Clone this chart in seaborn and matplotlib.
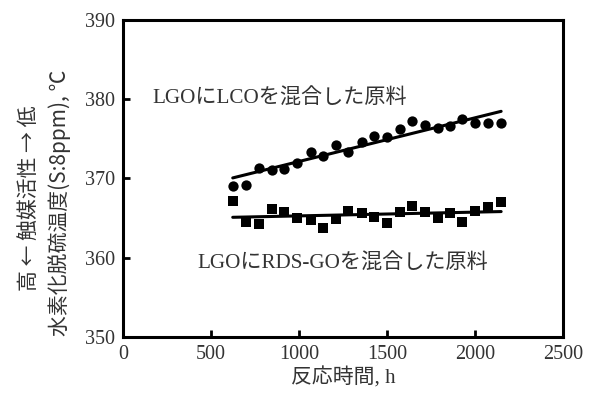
import numpy as np
import pandas as pd
import matplotlib.pyplot as plt
import seaborn as sns

# reaction time (h)
hours = [623, 699, 774, 845, 917, 987, 1066, 1138, 1210, 1280, 1356,
         1426, 1498, 1574, 1640, 1716, 1791, 1858, 1924, 2000, 2076, 2148]
# LGO + LCO feed
temp_lco = [369.0, 369.2, 371.3, 371.1, 371.2, 372.0, 373.3, 372.8, 374.2, 373.3, 374.6,
            375.4, 375.2, 376.2, 377.2, 376.8, 376.3, 376.6, 377.5, 377.0, 377.0, 377.0]
# LGO + RDS-GO feed
temp_rds = [367.2, 364.5, 364.3, 366.1, 365.8, 365.0, 364.8, 363.8, 364.9, 365.9, 365.7,
            365.2, 364.4, 365.8, 366.5, 365.8, 365.0, 365.7, 364.5, 365.9, 366.4, 367.0]

df = pd.DataFrame({'hours': hours, 'lco': temp_lco, 'rds': temp_rds})

sns.set_style('ticks')
plt.rcParams['font.family'] = ['Liberation Serif', 'Noto Sans CJK JP', 'DejaVu Sans']
plt.rcParams['axes.linewidth'] = 2.2

fig = plt.figure(figsize=(5.89, 3.97), dpi=100)
ax = fig.add_axes([0.209, 0.151, 0.747, 0.799])

sns.regplot(data=df, x='hours', y='lco', scatter=False, ci=None, ax=ax,
            color='black', line_kws={'linewidth': 2.2})
sns.regplot(data=df, x='hours', y='rds', scatter=False, ci=None, ax=ax,
            color='black', line_kws={'linewidth': 2.2})
sns.scatterplot(data=df, x='hours', y='lco', marker='o', s=55, color='black',
                edgecolor='black', linewidth=0, ax=ax, zorder=3)
sns.scatterplot(data=df, x='hours', y='rds', marker='s', s=48, color='black',
                edgecolor='black', linewidth=0, ax=ax, zorder=3)

ax.set_xlim(0, 2500)
ax.set_ylim(350, 390)
ax.set_xticks([0, 500, 1000, 1500, 2000, 2500])
ax.set_yticks([350, 360, 370, 380, 390])
ax.tick_params(direction='in', length=5, width=2, labelsize=14.5, colors='black',
               labelcolor='#333333', pad=6)
for s in ax.spines.values():
    s.set_visible(True)
    s.set_color('black')

ax.set_xlabel('反応時間, h', fontsize=15, color='#333333', labelpad=2)
ax.set_ylabel('')

sans = ['Noto Sans CJK JP', 'DejaVu Sans']
fig.text(0.102, 0.49, '水素化脱硫温度(S:8ppm), ℃', rotation=90, ha='center',
         va='center', fontsize=15, color='#333333', family=sans)
fig.text(0.050, 0.50, '高 ← 触媒活性 → 低', rotation=90, ha='center',
         va='center', fontsize=15, color='#333333', family=sans)

ax.text(0.066, 0.754, 'LGOにLCOを混合した原料', transform=ax.transAxes,
        fontsize=15.2, color='#333333', va='center', ha='left')
ax.text(0.168, 0.233, 'LGOにRDS-GOを混合した原料', transform=ax.transAxes,
        fontsize=15.2, color='#333333', va='center', ha='left')

fig.savefig('out.png', dpi=100)
